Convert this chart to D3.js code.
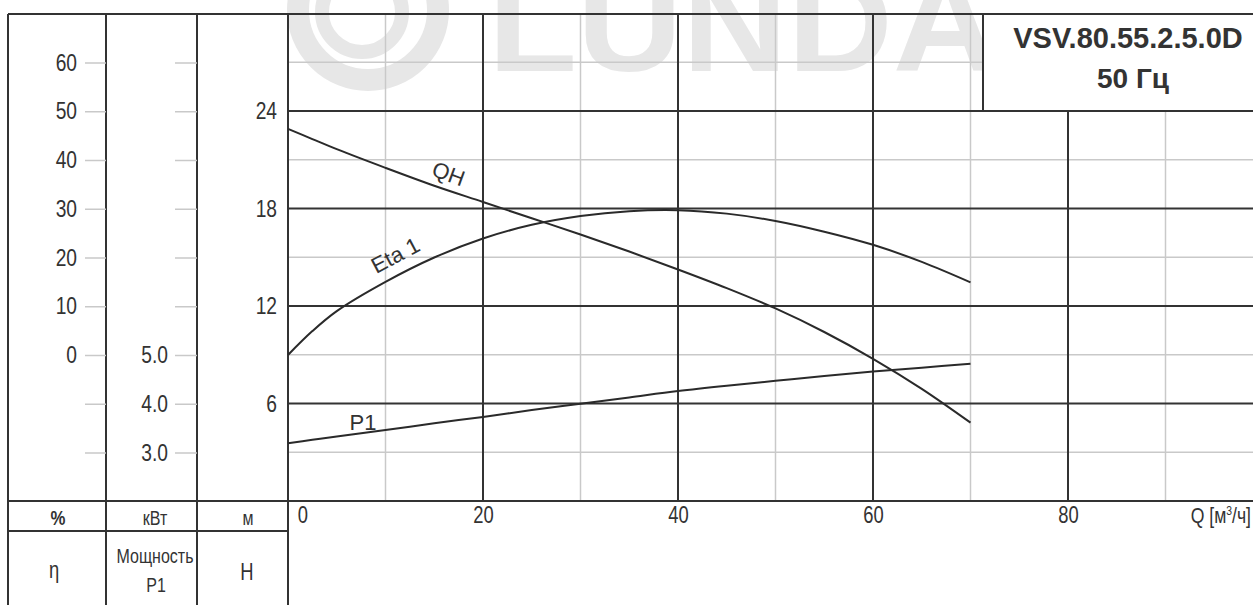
<!DOCTYPE html>
<html>
<head>
<meta charset="utf-8">
<script src="https://cdn.jsdelivr.net/npm/d3@7"></script>
<style>
  body { margin: 0; background: #fff; }
  text { fill: #333; }
</style>
</head>
<body>
<div id="chart"></div>
<script>
// Data
const flowQ   = [0, 2.5, 5, 10, 15, 20, 25, 30, 35, 40, 45, 50, 55, 60, 65, 70]
const headH   = [22.9, 22.27, 21.65, 20.5, 19.4, 18.4, 17.4, 16.4, 15.35, 14.25, 13.1, 11.85, 10.4, 8.75, 6.9, 4.82]
const eta1    = [0, 4.9, 9.0, 15.0, 20.0, 23.9, 26.7, 28.5, 29.5, 29.7, 29.0, 27.5, 25.3, 22.6, 19.1, 14.9]
const powerP1 = [3.19, 3.26, 3.33, 3.46, 3.6, 3.73, 3.87, 4.0, 4.13, 4.26, 4.37, 4.47, 4.57, 4.66, 4.74, 4.82]

const qTicks   = [0, 20, 40, 60, 80]
const qMinor   = [10, 30, 50, 70, 90]
const hTicks   = [6, 12, 18, 24]
const hMinor   = [3, 9, 15, 21, 27]
const etaTicks = [-20, -10, 0, 10, 20, 30, 40, 50, 60]
const pTicks   = [3, 4, 5, 6, 7, 8, 9, 10, 11]
const pLabels  = [3, 4, 5]

const title    = "VSV.80.55.2.5.0D"
const subtitle = "50 Гц"

//Dimensions
const width = 1253, height = 605
const frame = { left: 8, top: 14, col1: 106, col2: 197, plot: 288, axis: 501, row: 531 }

const sans = "'Liberation Sans', Arial, sans-serif"
const dark = "#333"
const light = "#c9c9c9"

const svg = d3.select("#chart")
              .append('svg')
              .attr('width', width)
              .attr('height', height)

// squeeze a text horizontally, the sheet uses a narrow face
function condense(sel, k = 0.8) {
  sel.each(function() {
    const t = d3.select(this)
    const x = +t.attr('x') || 0
    const y = +t.attr('y') || 0
    t.attr('x', 0).attr('y', 0)
     .attr('transform', `translate(${x},${y}) scale(${k},1)`)
  })
}

//Scales
const xScale = d3.scaleLinear().domain([0, 80]).range([frame.plot, frame.plot + 780])
const yH     = d3.scaleLinear().domain([0, 24]).range([frame.axis, 111])
const yEta   = d3.scaleLinear().domain([0, 60]).range([355, 62.5])
const yP     = d3.scaleLinear().domain([3, 5]).range([452.5, 355])

//Watermark
const wm = svg.append('g').attr('fill', 'none').attr('stroke', '#e7e7e7')
wm.append('circle').attr('cx', 368).attr('cy', 10).attr('r', 70).attr('stroke-width', 22)
wm.append('circle').attr('cx', 362).attr('cy', 12).attr('r', 40).attr('stroke-width', 14)
svg.append('text')
   .attr('x', 488)
   .attr('y', 71)
   .attr('font-family', sans)
   .attr('font-weight', 'bold')
   .attr('font-size', '140px')
   .attr('textLength', 510)
   .attr('lengthAdjust', 'spacingAndGlyphs')
   .style('fill', '#e7e7e7')
   .text("LUNDA")

//Grid
const grid = svg.append('g')
grid.selectAll('.vminor')
    .data(qMinor)
    .join('line')
    .attr('x1', d => xScale(d)).attr('x2', d => xScale(d))
    .attr('y1', frame.top).attr('y2', frame.axis)
    .attr('stroke', light).attr('stroke-width', 1.5)
grid.selectAll('.hminor')
    .data(hMinor)
    .join('line')
    .attr('x1', frame.plot).attr('x2', width)
    .attr('y1', d => yH(d)).attr('y2', d => yH(d))
    .attr('stroke', light).attr('stroke-width', 1.5)
grid.selectAll('.vmajor')
    .data(qTicks)
    .join('line')
    .attr('x1', d => xScale(d)).attr('x2', d => xScale(d))
    .attr('y1', frame.top).attr('y2', frame.axis)
    .attr('stroke', dark).attr('stroke-width', 2)
grid.selectAll('.hmajor')
    .data(hTicks)
    .join('line')
    .attr('x1', frame.plot).attr('x2', width)
    .attr('y1', d => yH(d)).attr('y2', d => yH(d))
    .attr('stroke', dark).attr('stroke-width', 2)

//Title box
svg.append('rect')
   .attr('x', 983).attr('y', frame.top)
   .attr('width', width - 983 + 5).attr('height', yH(24) - frame.top)
   .attr('fill', '#fff').attr('stroke', dark).attr('stroke-width', 2)
svg.append('text')
   .attr('x', 1128).attr('y', 48)
   .attr('text-anchor', 'middle')
   .attr('font-family', sans)
   .attr('font-weight', 'bold').attr('font-size', '29px')
   .text(title)
svg.append('text')
   .attr('x', 1133).attr('y', 88)
   .attr('text-anchor', 'middle')
   .attr('font-family', sans)
   .attr('font-weight', 'bold').attr('font-size', '28px')
   .text(subtitle)

//Frame lines
const frameLines = [
  [frame.left, frame.top, width, frame.top],
  [frame.left, frame.top, frame.left, height],
  [frame.col1, frame.top, frame.col1, height],
  [frame.col2, frame.top, frame.col2, height],
  [frame.plot, frame.top, frame.plot, height],
  [frame.left, frame.axis, width, frame.axis],
  [frame.left, frame.row, frame.plot, frame.row]
]
svg.append('g').selectAll('line')
   .data(frameLines)
   .join('line')
   .attr('x1', d => d[0]).attr('y1', d => d[1])
   .attr('x2', d => d[2]).attr('y2', d => d[3])
   .attr('stroke', dark).attr('stroke-width', 2)

//Axes
function styleAxis(g, tickColor, size) {
  g.select('.domain').remove()
  g.selectAll('.tick line').attr('stroke', tickColor).attr('stroke-width', 1.5)
  g.selectAll('.tick text')
   .attr('font-family', sans)
   .attr('font-size', size + 'px')
   .attr('fill', dark)
   .call(condense)
}

const etaAxis = d3.axisLeft(yEta)
                  .tickValues(etaTicks)
                  .tickSize(21)
                  .tickPadding(8)
                  .tickFormat(d => d >= 0 ? d : '')
svg.append('g')
   .attr('transform', `translate(${frame.col1},0)`)
   .call(etaAxis)
   .call(g => styleAxis(g, light, 24))

const pAxis = d3.axisLeft(yP)
                .tickValues(pTicks)
                .tickSize(22)
                .tickPadding(7)
                .tickFormat(d => pLabels.includes(d) ? d3.format('.1f')(d) : '')
svg.append('g')
   .attr('transform', `translate(${frame.col2},0)`)
   .call(pAxis)
   .call(g => styleAxis(g, light, 24))

const hAxis = d3.axisLeft(yH)
                .tickValues(hTicks)
                .tickSize(0)
                .tickPadding(11)
svg.append('g')
   .attr('transform', `translate(${frame.plot},0)`)
   .call(hAxis)
   .call(g => styleAxis(g, dark, 24))

const qAxis = d3.axisBottom(xScale)
                .tickValues(qTicks)
                .tickSize(0)
                .tickPadding(6)
svg.append('g')
   .attr('transform', `translate(0,${frame.axis})`)
   .call(qAxis)
   .call(g => styleAxis(g, dark, 23))
   .call(g => g.selectAll('.tick text').filter(d => d === 0).attr('dx', 18))

const qLabel = svg.append('text')
   .attr('x', width - 2).attr('y', 523)
   .attr('text-anchor', 'end')
   .attr('font-family', sans).attr('font-size', '22px')
qLabel.append('tspan').text("Q [м")
qLabel.append('tspan').attr('font-size', '13px').attr('dy', -8).text("3")
qLabel.append('tspan').attr('dy', 8).text("/ч]")
qLabel.call(condense)

//Header cells
const cells = [
  { x: 58,  y: 525, text: "%",        size: 21, bold: true },
  { x: 155, y: 525, text: "кВт",      size: 20 },
  { x: 248, y: 525, text: "м",        size: 20 },
  { x: 54,  y: 578, text: "η",        size: 23 },
  { x: 155, y: 563, text: "Мощность", size: 20 },
  { x: 156, y: 592, text: "P1",       size: 20 },
  { x: 247, y: 580, text: "H",        size: 23 }
]
svg.append('g').selectAll('text')
   .data(cells)
   .join('text')
   .attr('x', d => d.x).attr('y', d => d.y)
   .attr('text-anchor', 'middle')
   .attr('font-family', sans)
   .attr('font-size', d => d.size + 'px')
   .attr('font-weight', d => d.bold ? 'bold' : 'normal')
   .text(d => d.text)
   .call(condense)

//Curves
const curves = [
  { values: headH,   scale: yH },
  { values: eta1,    scale: yEta },
  { values: powerP1, scale: yP }
]
const line = d3.line().curve(d3.curveCatmullRom.alpha(0.5))
svg.append('g').selectAll('path')
   .data(curves)
   .join('path')
   .attr('d', c => line(flowQ.map((q, i) => [xScale(q), c.scale(c.values[i])])))
   .attr('fill', 'none')
   .attr('stroke', '#2a2a2a')
   .attr('stroke-width', 2)

//Curve labels
const labels = [
  { x: 446, y: 181, rot: 20,  text: "QH" },
  { x: 399, y: 262, rot: -28, text: "Eta 1" },
  { x: 363, y: 430, rot: 0,   text: "P1" }
]
svg.append('g').selectAll('text')
   .data(labels)
   .join('text')
   .attr('transform', d => `translate(${d.x},${d.y}) rotate(${d.rot})`)
   .attr('text-anchor', 'middle')
   .attr('font-family', sans)
   .attr('font-size', '22px')
   .text(d => d.text)
</script>
</body>
</html>
